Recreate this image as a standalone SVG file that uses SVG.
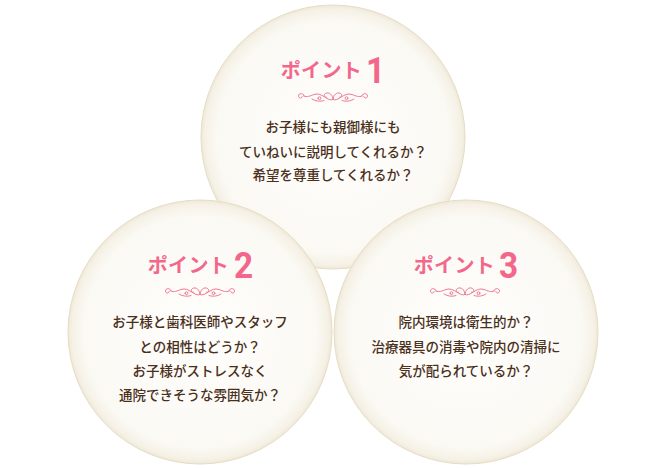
<svg xmlns="http://www.w3.org/2000/svg" xmlns:xlink="http://www.w3.org/1999/xlink" width="664" height="468" viewBox="0 0 664 468">
<defs>
<radialGradient id="disc" cx="0.5" cy="0.5" r="0.5">
<stop offset="0" stop-color="#fefefc"/>
<stop offset="0.88" stop-color="#fbf9f4"/>
<stop offset="0.97" stop-color="#f5f1e6"/>
<stop offset="1" stop-color="#efe8d6"/>
</radialGradient>
<symbol id="orn" viewBox="-36 -6 72 12" overflow="visible">
<g fill="none" stroke="#f07892" stroke-width="1" stroke-linecap="round">
<g id="ornHalf">
<path d="M0,3.5 C0,-1 4,-4.5 7.5,-2.5 C10,-1 8.5,2 6.5,1.2"/>
<path d="M0,3.5 C5,6.5 11,-4.5 19,-1.5 C23,0 26,1.5 29,0"/>
<path d="M29,0 C29,-3.2 34.5,-3.2 34.5,0 C34.5,2.4 31,2.8 30.8,0.6"/>
<circle cx="13.5" cy="2.2" r="1.4"/>
<path d="M9,4.5 C13,6 18,5 21,3"/>
</g>
<use xlink:href="#ornHalf" transform="scale(-1,1)"/>
</g>
</symbol>
<style>
.disc{fill:url(#disc);stroke:#e6ddc6;stroke-width:1}
.kana{font-family:"Noto Sans CJK JP","Noto Sans",sans-serif;font-weight:bold;font-size:20px;fill:#f2678a;text-anchor:end;letter-spacing:0.3px}
.num{font-family:Roboto,"Noto Sans",sans-serif;font-weight:bold;font-size:37px;fill:#f2678a;text-anchor:start}
.body{font-family:"Noto Sans CJK JP",sans-serif;font-weight:500;font-size:13.5px;fill:#4a2f1b;text-anchor:middle}
</style>
</defs>
<rect width="664" height="468" fill="#ffffff"/>
<g id="node-point1">
<circle class="disc" cx="333" cy="137" r="132"/>
<text class="kana" x="362" y="78">ポイント</text>
<text class="num" transform="translate(366,83) scale(0.9,1)">1</text>
<use xlink:href="#orn" x="297" y="90" width="72" height="12"/>
<text class="body" x="333" y="132">お子様にも親御様にも</text>
<text class="body" x="333" y="156.5">ていねいに説明してくれるか？</text>
<text class="body" x="333" y="180">希望を尊重してくれるか？</text>
</g>
<g id="node-point2">
<circle class="disc" cx="200" cy="332" r="132"/>
<text class="kana" x="229" y="273">ポイント</text>
<text class="num" transform="translate(234,278) scale(0.9,1)">2</text>
<use xlink:href="#orn" x="164" y="285" width="72" height="12"/>
<text class="body" x="200" y="327">お子様と歯科医師やスタッフ</text>
<text class="body" x="200" y="351.5">との相性はどうか？</text>
<text class="body" x="200" y="375.5">お子様がストレスなく</text>
<text class="body" x="200" y="400">通院できそうな雰囲気か？</text>
</g>
<g id="node-point3">
<circle class="disc" cx="466" cy="332" r="132"/>
<text class="kana" x="495" y="273">ポイント</text>
<text class="num" transform="translate(499,278) scale(0.9,1)">3</text>
<use xlink:href="#orn" x="429" y="285" width="72" height="12"/>
<text class="body" x="466" y="327">院内環境は衛生的か？</text>
<text class="body" x="466" y="351.5">治療器具の消毒や院内の清掃に</text>
<text class="body" x="466" y="375.5">気が配られているか？</text>
</g>
</svg>
